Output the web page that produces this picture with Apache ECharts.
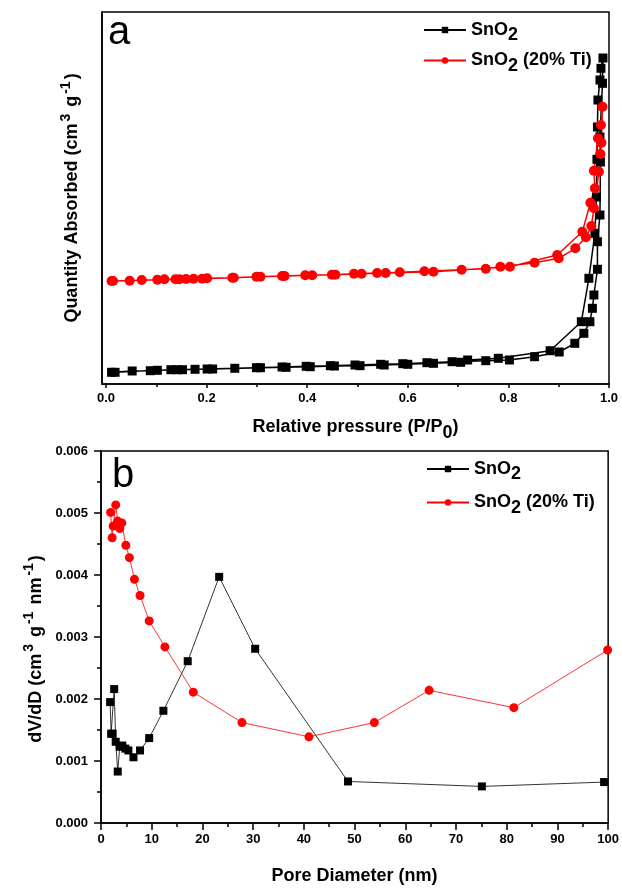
<!DOCTYPE html>
<html>
<head>
<meta charset="utf-8">
<script src="https://cdn.jsdelivr.net/npm/echarts@6/dist/echarts.min.js"></script>
<style>html,body{margin:0;padding:0;background:#fff;}#chart{width:622px;height:890px;}</style>
</head>
<body>
<div id="chart"></div>
<script>
// ---------- Panel a: N2 isotherms (adsorption then desorption branch) ----------
const isoP_SnO2 = [0.011,0.052,0.088,0.129,0.152,0.201,0.256,0.299,0.350,0.398,0.446,0.495,0.546,0.590,0.638,0.688,0.755,0.802,0.852,0.901,0.932,0.950,0.962,0.967,0.970,0.977,0.977,0.982,0.983,0.982,0.987,0.988,
  0.984,0.982,0.978,0.977,0.976,0.975,0.972,0.960,0.945,0.883,0.780,0.719,0.705,0.651,0.600,0.553,0.505,0.454,0.406,0.358,0.307,0.212,0.177,0.141,0.102,0.018];
const isoQ_SnO2 = [11.7,13.0,13.3,14.3,14.3,15.0,15.7,16.3,17.0,17.7,18.3,19.0,19.7,20.3,21.3,22.3,23.3,24.0,27.3,32.0,40.7,50.7,62.3,75.7,89.0,114.7,142.3,169.0,222.0,247.0,300.7,326.0,
  315.7,304.0,284.0,257.0,224.7,187.0,150.7,105.7,62.3,33.3,25.7,24.0,21.7,20.7,19.7,19.0,18.3,18.0,17.3,16.7,16.3,15.0,14.7,14.3,13.7,11.7];
const isoP_Ti = [0.011,0.047,0.071,0.102,0.116,0.138,0.159,0.174,0.201,0.251,0.299,0.350,0.396,0.449,0.493,0.539,0.584,0.633,0.707,0.755,0.784,0.852,0.900,0.933,0.954,0.965,0.970,0.980,0.983,0.985,0.987,
  0.984,0.978,0.970,0.972,0.963,0.947,0.897,0.803,0.651,0.556,0.508,0.456,0.410,0.355,0.307,0.254,0.191,0.146,0.014];
const isoQ_Ti = [103.0,103.3,104.0,104.3,104.7,104.7,105.0,105.3,105.7,106.3,107.3,108.0,108.7,109.3,110.3,111.0,111.7,112.7,114.3,115.3,117.3,121.3,125.7,135.7,146.7,158.0,175.7,212.3,230.0,241.3,277.3,
  259.0,245.7,213.3,195.7,181.3,152.3,129.0,117.3,112.3,111.0,110.3,109.3,108.7,108.0,107.3,106.3,105.3,104.8,103.0];
const pressureTicks = [0, 0.2, 0.4, 0.6, 0.8, 1.0];
const pressureMinorTicks = [0.1, 0.3, 0.5, 0.7, 0.9];

// ---------- Panel b: pore size distribution ----------
const poreD_SnO2 = [1.8,2.0,2.3,2.6,2.9,3.3,3.7,4.2,4.8,5.4,6.4,7.7,9.5,12.3,17.1,23.3,30.4,48.7,75.1,99.2];
const dvdD_SnO2  = [0.00195,0.00144,0.00144,0.00216,0.00131,0.00083,0.00123,0.00125,0.00120,0.00117,0.00106,0.00117,0.00137,0.00181,0.00261,0.00397,0.00281,0.00067,0.00059,0.00066];
const poreD_Ti = [1.9,2.2,2.4,2.9,3.3,3.7,4.1,4.9,5.6,6.6,7.7,9.5,12.6,18.2,27.8,41.0,53.9,64.7,81.4,99.9];
const dvdD_Ti  = [0.00501,0.00460,0.00479,0.00513,0.00487,0.00475,0.00484,0.00448,0.00428,0.00393,0.00367,0.00326,0.00284,0.00211,0.00162,0.00139,0.00162,0.00214,0.00186,0.00279];

const seriesNames = ['SnO2', 'SnO2 (20% Ti)'];

const zip = (a, b) => a.map((v, i) => [v, b[i]]);
const FONT = 'Liberation Sans, Arial, sans-serif';
const RED = '#ff0000';

const richCommon = {
  n: {fontFamily: FONT, fontWeight: 'bold', fontSize: 18, color: '#000', verticalAlign: 'middle'},
  s: {fontFamily: FONT, fontWeight: 'bold', fontSize: 18, color: '#000', verticalAlign: 'middle', padding: [11, 0, 0, 0]},
  p: {fontFamily: FONT, fontWeight: 'bold', fontSize: 14, color: '#000', verticalAlign: 'middle', padding: [0, 2, 13, 2]}
};
const legendFmt = name => name === seriesNames[0] ? '{n|SnO}{s|2}' : '{n|SnO}{s|2}{n| (20% Ti)}';

const chart = echarts.init(document.getElementById('chart'), null, {renderer: 'canvas'});
const option = {
  backgroundColor: '#fff',
  animation: false,
  textStyle: {fontFamily: FONT},
  grid: [
    {left: 102, top: 12, width: 507, height: 372, show: true, borderColor: '#000', borderWidth: 1.5, backgroundColor: 'transparent'},
    {left: 101, top: 451, width: 509, height: 372, show: true, borderColor: '#000', borderWidth: 1.5, backgroundColor: 'transparent'}
  ],
  xAxis: [
    {type: 'value', gridIndex: 0, min: -0.008, max: 1.0,
     axisLine: {show: true, onZero: false, lineStyle: {color: '#000', width: 1.5}},
     axisTick: {show: true, length: 4, lineStyle: {color: '#000', width: 1.5}, customValues: pressureTicks},
     axisLabel: {show: true, margin: 8, customValues: pressureTicks, formatter: v => v.toFixed(1), fontFamily: FONT, fontWeight: 'bold', fontSize: 13, color: '#000'},
     splitLine: {show: false},
     name: 'Relative pressure (P/P{s|0})', nameLocation: 'middle', nameGap: 29,
     nameTextStyle: {fontFamily: FONT, fontWeight: 'bold', fontSize: 18, color: '#000', rich: richCommon}},
    {type: 'value', gridIndex: 0, min: -0.008, max: 1.0, position: 'bottom',
     axisLine: {show: false, onZero: false},
     axisTick: {show: true, length: 3, lineStyle: {color: '#000', width: 1.5}, customValues: pressureMinorTicks},
     axisLabel: {show: false}, splitLine: {show: false}},
    {type: 'value', gridIndex: 1, min: 0, max: 100, interval: 10,
     axisLine: {show: true, onZero: false, lineStyle: {color: '#000', width: 1.5}},
     axisTick: {show: true, length: 7, lineStyle: {color: '#000', width: 1.5}},
     minorTick: {show: true, splitNumber: 2, length: 4, lineStyle: {color: '#000', width: 1.5}},
     axisLabel: {margin: 10, fontFamily: FONT, fontWeight: 'bold', fontSize: 13, color: '#000'},
     splitLine: {show: false}, minorSplitLine: {show: false},
     name: 'Pore Diameter (nm)', nameLocation: 'middle', nameGap: 44,
     nameTextStyle: {fontFamily: FONT, fontWeight: 'bold', fontSize: 18, color: '#000'}}
  ],
  yAxis: [
    {type: 'value', gridIndex: 0, min: 0, max: 372,
     axisLine: {show: true, onZero: false, lineStyle: {color: '#000', width: 1.5}},
     axisTick: {show: false}, axisLabel: {show: false}, splitLine: {show: false},
     name: 'Quantity Absorbed (cm{p|3} g{p|-1})', nameLocation: 'middle', nameGap: 16,
     nameTextStyle: {fontFamily: FONT, fontWeight: 'bold', fontSize: 18, color: '#000', rich: richCommon}},
    {type: 'value', gridIndex: 1, min: 0, max: 0.006, interval: 0.001,
     axisLine: {show: true, onZero: false, lineStyle: {color: '#000', width: 1.5}},
     axisTick: {show: true, length: 7, lineStyle: {color: '#000', width: 1.5}},
     minorTick: {show: true, splitNumber: 2, length: 4, lineStyle: {color: '#000', width: 1.5}},
     axisLabel: {margin: 13, formatter: v => v.toFixed(3), fontFamily: FONT, fontWeight: 'bold', fontSize: 13, color: '#000'},
     splitLine: {show: false}, minorSplitLine: {show: false},
     name: 'dV/dD (cm{p|3} g{p|-1} nm{p|-1})', nameLocation: 'middle', nameGap: 46,
     nameTextStyle: {fontFamily: FONT, fontWeight: 'bold', fontSize: 18, color: '#000', rich: richCommon, padding: [0, 24, 0, 0]}}
  ],
  legend: [
    {orient: 'vertical', left: 423, top: 20, padding: 0, itemWidth: 42, itemHeight: 8, itemGap: 6,
     data: seriesNames, formatter: legendFmt, selectedMode: false,
     textStyle: {rich: richCommon, lineHeight: 20}},
    {orient: 'vertical', left: 426, top: 459, padding: 0, itemWidth: 42, itemHeight: 8, itemGap: 9,
     data: seriesNames, formatter: legendFmt, selectedMode: false,
     textStyle: {rich: richCommon, lineHeight: 20}}
  ],
  graphic: [
    {type: 'text', left: 108, top: 13, style: {text: 'a', font: '40px ' + FONT, fill: '#000'}},
    {type: 'text', left: 112, top: 456, style: {text: 'b', font: '40px ' + FONT, fill: '#000'}}
  ],
  series: [
    {name: seriesNames[0], type: 'line', xAxisIndex: 0, yAxisIndex: 0, data: zip(isoP_SnO2, isoQ_SnO2),
     symbol: 'rect', symbolSize: 9, showAllSymbol: true, color: '#000',
     lineStyle: {color: '#000', width: 1.5}, itemStyle: {color: '#000'}},
    {name: seriesNames[1], type: 'line', xAxisIndex: 0, yAxisIndex: 0, data: zip(isoP_Ti, isoQ_Ti),
     symbol: 'circle', symbolSize: 10, showAllSymbol: true, color: RED,
     lineStyle: {color: RED, width: 1.5}, itemStyle: {color: RED}},
    {name: seriesNames[0], type: 'line', xAxisIndex: 2, yAxisIndex: 1, data: zip(poreD_SnO2, dvdD_SnO2),
     symbol: 'rect', symbolSize: 8, showAllSymbol: true, color: '#000',
     lineStyle: {color: '#000', width: 0.8}, itemStyle: {color: '#000'}},
    {name: seriesNames[1], type: 'line', xAxisIndex: 2, yAxisIndex: 1, data: zip(poreD_Ti, dvdD_Ti),
     symbol: 'circle', symbolSize: 9, showAllSymbol: true, color: RED,
     lineStyle: {color: RED, width: 0.8}, itemStyle: {color: RED}}
  ]
};
chart.setOption(option);
</script>
</body>
</html>
